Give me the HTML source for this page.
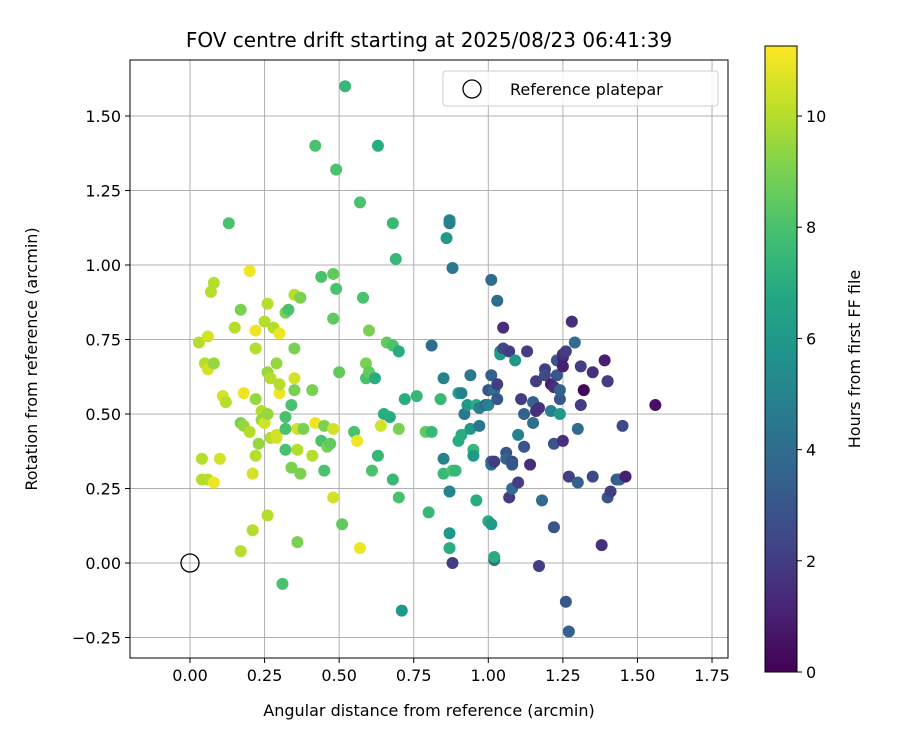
<!DOCTYPE html>
<html><head><meta charset="utf-8"><style>
body{margin:0;background:#fff;font-family:"Liberation Sans","DejaVu Sans",sans-serif}
svg text{font-family:"DejaVu Sans","Liberation Sans",sans-serif;fill:#000}
</style></head><body>
<svg id="c" width="900" height="750" xmlns="http://www.w3.org/2000/svg">
<defs><linearGradient id="vir" x1="0" y1="1" x2="0" y2="0">
<stop offset="0" stop-color="#440154"/><stop offset="0.1" stop-color="#482475"/><stop offset="0.2" stop-color="#414487"/><stop offset="0.3" stop-color="#355f8d"/><stop offset="0.4" stop-color="#2a788e"/><stop offset="0.5" stop-color="#21918c"/><stop offset="0.6" stop-color="#22a884"/><stop offset="0.7" stop-color="#44bf70"/><stop offset="0.8" stop-color="#7ad151"/><stop offset="0.9" stop-color="#bddf26"/><stop offset="1" stop-color="#fde725"/></linearGradient>
<clipPath id="pc"><rect x="130" y="60" width="598" height="598"/></clipPath></defs>
<g id="grid"></g>
<g id="pts" clip-path="url(#pc)"></g>
<rect x="130" y="60" width="598" height="598" fill="none" stroke="#000" stroke-width="1"/>
<g id="ticks"></g>
<text x="429" y="47" font-size="20" text-anchor="middle">FOV centre drift starting at 2025/08/23 06:41:39</text>
<text x="429" y="716" font-size="16" text-anchor="middle">Angular distance from reference (arcmin)</text>
<text transform="translate(37,359) rotate(-90)" font-size="16" text-anchor="middle">Rotation from reference (arcmin)</text>
<g>
<rect x="443" y="71" width="275" height="35" rx="3" fill="#fff" fill-opacity="0.8" stroke="#ccc"/>
<circle cx="472" cy="89" r="9" fill="none" stroke="#000" stroke-width="1.3"/>
<text x="510" y="95" font-size="16">Reference platepar</text>
</g>
<rect x="765" y="46" width="32" height="626" fill="url(#vir)" stroke="#000" stroke-width="1"/>
<g id="cbt"></g>
<text transform="translate(860,359) rotate(-90)" font-size="16" text-anchor="middle">Hours from first FF file</text>
</svg>
<script>
const xs=[0.03,0.05,0.06,0.06,0.07,0.08,0.08,0.04,0.04,0.06,0.08,0.10,0.11,0.12,0.13,0.15,0.17,0.17,0.17,0.18,0.18,0.20,0.20,0.21,0.21,0.22,0.22,0.22,0.22,0.23,0.24,0.24,0.25,0.25,0.26,0.26,0.26,0.26,0.27,0.27,0.28,0.29,0.29,0.29,0.30,0.30,0.30,0.32,0.32,0.32,0.31,0.32,0.33,0.34,0.34,0.35,0.35,0.35,0.35,0.36,0.36,0.36,0.37,0.37,0.38,0.41,0.41,0.42,0.42,0.44,0.44,0.45,0.45,0.46,0.47,0.48,0.48,0.48,0.48,0.49,0.49,0.50,0.51,0.52,0.55,0.56,0.57,0.57,0.58,0.59,0.59,0.60,0.60,0.61,0.62,0.63,0.63,0.64,0.65,0.66,0.67,0.68,0.68,0.68,0.69,0.70,0.70,0.70,0.71,0.72,0.76,0.79,0.80,0.81,0.81,0.84,0.85,0.85,0.85,0.86,0.87,0.87,0.87,0.87,0.87,0.88,0.88,0.88,0.89,0.90,0.90,0.91,0.91,0.92,0.93,0.94,0.94,0.95,0.95,0.96,0.96,0.97,0.97,0.99,1.00,1.00,1.00,1.01,1.01,1.01,1.01,1.01,1.02,1.02,1.02,1.02,1.03,1.03,1.03,1.04,1.04,1.05,1.05,1.06,1.06,1.07,1.07,1.08,1.08,1.08,1.09,1.10,1.10,1.11,1.12,1.12,1.13,1.14,1.15,1.15,1.16,1.16,1.17,1.17,1.18,1.19,1.19,1.21,1.21,1.22,1.22,1.22,1.23,1.23,1.24,1.24,1.24,1.25,1.25,1.25,1.25,1.26,1.26,1.27,1.27,1.28,1.29,1.30,1.30,1.31,1.31,1.32,1.35,1.35,1.38,1.39,1.40,1.40,1.40,1.41,1.43,1.44,1.45,1.46,1.56];
const ys=[0.74,0.67,0.65,0.76,0.91,0.94,0.67,0.35,0.28,0.28,0.27,0.35,0.56,0.54,1.14,0.79,0.85,0.47,0.04,0.46,0.57,0.98,0.44,0.30,0.11,0.78,0.72,0.55,0.36,0.40,0.51,0.48,0.81,0.47,0.87,0.16,0.50,0.64,0.42,0.62,0.79,0.67,0.43,0.42,0.77,0.57,0.60,0.49,0.45,0.38,-0.07,0.84,0.85,0.32,0.53,0.90,0.72,0.62,0.58,0.07,0.38,0.45,0.89,0.30,0.45,0.58,0.36,0.47,1.40,0.41,0.96,0.46,0.31,0.39,0.40,0.45,0.22,0.82,0.97,1.32,0.92,0.64,0.13,1.60,0.44,0.41,1.21,0.05,0.89,0.62,0.67,0.78,0.64,0.31,0.62,1.40,0.36,0.46,0.50,0.74,0.49,0.28,0.73,1.14,1.02,0.45,0.22,0.71,-0.16,0.55,0.56,0.44,0.17,0.73,0.44,0.55,0.62,0.35,0.30,1.09,1.14,1.15,0.24,0.10,0.05,0.99,0.31,0.00,0.31,0.41,0.57,0.57,0.43,0.50,0.53,0.63,0.45,0.38,0.36,0.53,0.21,0.46,0.52,0.53,0.58,0.53,0.14,0.13,0.63,0.95,0.34,0.33,0.01,0.02,0.58,0.34,0.88,0.60,0.55,0.71,0.70,0.79,0.72,0.37,0.35,0.71,0.22,0.34,0.33,0.25,0.68,0.27,0.43,0.55,0.39,0.50,0.71,0.33,0.54,0.47,0.61,0.51,0.52,-0.01,0.21,0.65,0.63,0.60,0.51,0.12,0.40,0.59,0.63,0.68,0.55,0.50,0.58,0.69,0.70,0.41,0.66,0.71,-0.13,0.29,-0.23,0.81,0.74,0.45,0.27,0.53,0.66,0.58,0.64,0.29,0.06,0.68,0.61,0.61,0.22,0.24,0.28,0.28,0.46,0.29,0.53];
const hours=[10,10,10.5,10.5,10,10,9.5,10,10,10,11,10.5,10.5,10,8,10,9,9,10,9.5,11,11,10,10.5,10,11,10,9.5,10,9.5,10,9.5,10,10.5,10,10,9.5,9.5,10,10,10,9.5,10.5,10.5,11,11,10,8,8,8,8,9,8,9,8,10,9,10.5,9,9,10,10.5,9,9,9,9,10,11,8,8,8,9,8,9,8.5,10.5,10.5,8.5,8.5,8,8,8.5,8.5,7.5,8,11,8,11,8,8,9,9,8.5,8,7,7,7.5,10.5,7,8.5,7,7.5,8,7.5,7.5,9,8,7,6,7,7.5,8.5,7.5,4,7.5,7.5,5,5,7.5,6,5,5,5,6,7,4.5,8,2,7.5,7,6.5,5,7,4.5,6,4.5,6,7.5,6,7,7,4.5,5,4,3,5,7,6,3.5,4,3,4,4,7,4,2,4,2,3,5,6,1.5,2.5,3,3.5,2,2,2.5,3,4,6,2,5,2,3,3.5,2,1.5,3.5,4,2,1.5,1.5,2,4,2,2.5,1,5,3,3,1.5,3,3,3,6,3.5,1,1.5,1.5,1,2,3,2,3.5,1.5,4,4,3.5,2,2,0.2,1.5,2.5,1.5,1,2.5,2,3,2,3,3.5,2.5,1,0.5];
const xTicks=[0,0.25,0.5,0.75,1,1.25,1.5,1.75];
const yTicks=[-0.25,0,0.25,0.5,0.75,1,1.25,1.5];
const cbTicks=[0,2,4,6,8,10];
const HMAX=11.26;
const NS='http://www.w3.org/2000/svg';
const sx=v=>190+v*298.3, sy=v=>563-v*298, cy=h=>672-h*(626/HMAX);
const stops=[[68,1,84],[72,36,117],[65,68,135],[53,95,141],[42,120,142],[33,145,140],[34,168,132],[68,191,112],[122,209,81],[189,223,38],[253,231,37]];
function vir(t){t=Math.max(0,Math.min(1,t))*10;const i=Math.min(9,Math.floor(t)),f=t-i,a=stops[i],b=stops[i+1];return 'rgb('+a.map((c,k)=>Math.round(c+(b[k]-c)*f)).join(',')+')';}
function mk(tag,at,p){const e=document.createElementNS(NS,tag);for(const k in at)e.setAttribute(k,at[k]);p.appendChild(e);return e;}
const grid=document.getElementById('grid'),ticks=document.getElementById('ticks'),pts=document.getElementById('pts'),cbt=document.getElementById('cbt');
xTicks.forEach(v=>{const x=sx(v);
const g=mk('line',{x1:x,x2:x,y1:60,y2:658,stroke:'#b0b0b0','stroke-width':1},grid);


const t=mk('line',{x1:x,x2:x,y1:658,y2:663,stroke:'#000'},ticks);


const l=mk('text',{x:x,y:681,'font-size':16,'text-anchor':'middle'},ticks);l.textContent=v.toFixed(2);

});
yTicks.forEach(v=>{const y=sy(v);
const g=mk('line',{x1:130,x2:728,y1:y,y2:y,stroke:'#b0b0b0','stroke-width':1},grid);


const t=mk('line',{x1:125,x2:130,y1:y,y2:y,stroke:'#000'},ticks);


const l=mk('text',{x:121,y:y+6,'font-size':16,'text-anchor':'end'},ticks);l.textContent=(v<0?'\u2212':'')+Math.abs(v).toFixed(2);

});
xs.forEach((x,i)=>{const c=mk('circle',{cx:sx(x),cy:sy(ys[i]),r:6,fill:vir(hours[i]/HMAX)},pts);

});
const ref=mk('circle',{cx:sx(0),cy:sy(0),r:9,fill:'none',stroke:'#000','stroke-width':1.3},pts);


cbTicks.forEach(v=>{const y=cy(v);
const t=mk('line',{x1:797,x2:802,y1:y,y2:y,stroke:'#000'},cbt);


const l=mk('text',{x:806,y:y+6,'font-size':16},cbt);l.textContent=v;

});
</script>
</body></html>
